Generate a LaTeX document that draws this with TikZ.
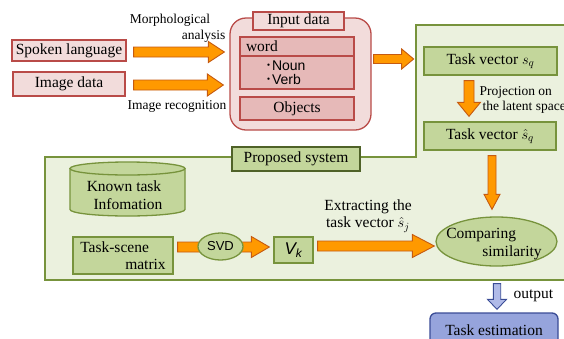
\documentclass[tikz,border=0pt]{standalone}
\usepackage{fontspec}
\setmainfont{Liberation Serif}
\setsansfont{Liberation Sans}
\newfontfamily\cjk{Noto Sans CJK JP}
\usetikzlibrary{calc, shapes.geometric}
\definecolor{cPink}{RGB}{242,220,219}
\definecolor{cPinkDk}{RGB}{230,185,184}
\definecolor{cRed}{RGB}{185,75,72}
\definecolor{cOrange}{RGB}{255,153,0}
\definecolor{cOrangeLn}{RGB}{197,90,17}
\definecolor{cGreenBg}{RGB}{235,241,222}
\definecolor{cGreen}{RGB}{195,214,155}
\definecolor{cGreenLn}{RGB}{119,147,60}
\definecolor{cGreenDk}{RGB}{79,98,40}
\definecolor{cBlue}{RGB}{150,164,220}
\definecolor{cBlueLt}{RGB}{176,186,232}
\definecolor{cBlueLn}{RGB}{58,76,150}

\tikzset{
  txt/.style={font=\fontsize{15.5}{17.5}\selectfont},
  smalltxt/.style={font=\fontsize{13.5}{15.5}\selectfont},
  pinkbox/.style={draw=cRed, fill=cPink, line width=1.3pt, inner sep=0pt, txt},
  pinkinner/.style={pinkbox, fill=cPinkDk},
  greenbox/.style={draw=cGreenLn, fill=cGreen, line width=1.3pt, inner sep=0pt, txt},
  orangearrow/.style={draw=cOrangeLn, fill=cOrange, line width=0.9pt},
  bluearrow/.style={draw=cBlueLn, fill=cBlueLt, line width=0.9pt},
}

% block arrow: [style]{from}{to}{half shaft}{half head}{head length}
\newcommand{\blockarrow}[6][orangearrow]{%
  \coordinate (ba-neck) at ($(#3)!#6!(#2)$);
  \draw[#1] ($(#2)!#4!90:(#3)$) -- ($(ba-neck)!#4!90:(#3)$)
    -- ($(ba-neck)!#5!90:(#3)$) -- (#3) -- ($(ba-neck)!#5!-90:(#3)$)
    -- ($(ba-neck)!#4!-90:(#3)$) -- ($(#2)!#4!-90:(#3)$) -- cycle;
}

\begin{document}
\begin{tikzpicture}[x=1pt, y=-1pt]
  \useasboundingbox (0,0) rectangle (564,338);
  \clip (0,0) rectangle (564,338);

  % proposed system area
  \draw[fill=cGreenBg, draw=cGreenLn, line width=1.5pt]
    (416,25) -- (570,25) -- (570,280) -- (45,280) -- (45,157) -- (416,157) -- cycle;

  % inputs
  \node[pinkbox, minimum width=114, minimum height=21] (spoken) at (69,50.5) {Spoken language};
  \node[pinkbox, minimum width=112, minimum height=24] (imgdata) at (69,84) {Image data};
  \node[smalltxt] (morph) at (170,20) {Morphological};
  \node[smalltxt, anchor=east] (analysis) at (229,36) {analysis};
  \node[smalltxt] (imgrec) at (177,106) {Image recognition};

  \node[pinkbox, rounded corners=16pt, minimum width=141, minimum height=112] (input) at (300.5,74) {};
  \node[pinkbox, minimum width=91, minimum height=18] (inputtab) at (298.5,21) {Input data};
  \node[pinkinner, minimum width=114, minimum height=19, inner xsep=6pt, text width=102, align=left] (word) at (297,46.5) {word};
  \node[pinkinner, minimum width=114, minimum height=33, inner xsep=25pt, text width=64, align=left,
        font=\sffamily\fontsize{14}{14.5}\selectfont] (nounverb) at (297,72.5) {{\cjk ･}Noun\\{\cjk ･}Verb};
  \node[pinkinner, minimum width=114, minimum height=23] (objects) at (297,108.5) {Objects};

  \coordinate (a1s) at ($(spoken.east)+(7,1.5)$);
  \coordinate (a1e) at ($(a1s -| input.west)+(-5,0)$);
  \blockarrow{a1s}{a1e}{5pt}{10.5pt}{16pt}
  \coordinate (a2s) at ($(imgdata.east)+(8,1)$);
  \coordinate (a2e) at ($(a2s -| input.west)+(-6,0)$);
  \blockarrow{a2s}{a2e}{5pt}{11pt}{16pt}
  \coordinate (a3s) at ($(input.east)+(2,-15)$);
  \coordinate (a3e) at ($(a3s)+(40,0)$);
  \blockarrow{a3s}{a3e}{4.5pt}{10pt}{12pt}

  % task vectors
  \node[greenbox, minimum width=133, minimum height=28] (sq) at (490.5,61) {Task vector $s_q$};
  \node[greenbox, minimum width=132, minimum height=28] (shq) at (490,136) {Task vector $\hat{s}_q$};
  \node[smalltxt, anchor=west, align=left] (proj) at (476,100) {Projection on\\\hspace*{3pt}the latent space};
  \coordinate (a4s) at ($(sq.south)+(-21.5,5)$);
  \coordinate (a4e) at ($(shq.north)+(-21,-5)$);
  \blockarrow{a4s}{a4e}{5pt}{11.5pt}{14pt}

  \node[greenbox, line width=2.5pt, draw=cGreenDk, minimum width=128, minimum height=24] (proptab) at (296,159) {Proposed system};

  % known task database
  \draw[fill=cGreen, draw=cGreenLn, line width=1.3pt]
    (70,168.5) -- (70,209.5) arc[start angle=180, end angle=0, x radius=57.5, y radius=6.5]
    -- (185,168.5) -- cycle;
  \draw[fill=cGreen, draw=cGreenLn, line width=1.3pt]
    (127.5,168.5) ellipse[x radius=57.5, y radius=6.5];
  \node[txt, align=center] (known) at (124,195) {Known task\\\hspace*{8pt}Infomation};

  \node[greenbox, minimum width=100, minimum height=37, align=left] (tsm) at (123,255.5) {Task-scene\\\hspace*{45pt}matrix};
  \node[greenbox, minimum width=39, minimum height=26, font=\sffamily\itshape\fontsize{17}{18}\selectfont] (vk) at (293.5,250) {V\textsubscript{k}};
  \node[greenbox, ellipse, minimum width=121, minimum height=49] (cmp) at (496.5,241.5) {};
  \node[txt, align=left] (cmptxt) at (494,244) {Comparing\\\hspace*{36pt}similarity};

  \coordinate (a6s) at ($(tsm.east)+(4,-8.5)$);
  \coordinate (a6e) at ($(vk.west)+(-4,-3)$);
  \blockarrow{a6s}{a6e}{5pt}{10.5pt}{18pt}
  \node[greenbox, ellipse, minimum width=45, minimum height=27, font=\sffamily\fontsize{13}{14}\selectfont] (svd) at (220.5,246.5) {SVD};

  \coordinate (a7s) at ($(vk.east)+(4,-4)$);
  \coordinate (a7e) at ($(cmp.west)+(-1,4.5)$);
  \blockarrow{a7s}{a7e}{5pt}{11.5pt}{22pt}
  \node[txt, align=center] (extract) at (368,216) {Extracting the\\task vector $\hat{s}_{j}$};

  \coordinate (a5s) at ($(shq.south)+(2,5)$);
  \coordinate (a5e) at ($(cmp.north)+(-4.5,-7)$);
  \blockarrow{a5s}{a5e}{4pt}{8pt}{15pt}

  % output
  \node[draw=cBlueLn, fill=cBlue, line width=1.3pt, rounded corners=6pt, minimum width=128,
        minimum height=34, txt] (taskest) at (494,330) {Task estimation};
  \coordinate (a8s) at ($(cmp.south)+(0.5,17)$);
  \coordinate (a8e) at ($(a8s |- taskest.north)+(0,-3)$);
  \blockarrow[bluearrow]{a8s}{a8e}{3.7pt}{9.5pt}{10pt}
  \node[txt, anchor=west] (outlbl) at (510,296) {output};
\end{tikzpicture}
\end{document}
